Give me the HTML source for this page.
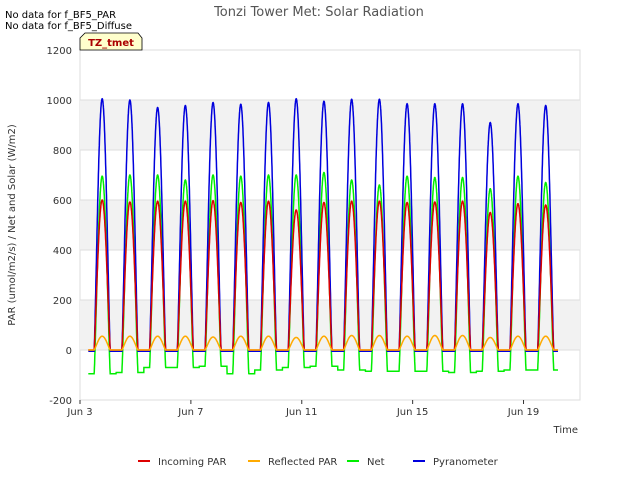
<!DOCTYPE html>
<html><head><meta charset="utf-8"><style>
body{margin:0;background:#fff;font-family:"Liberation Sans","DejaVu Sans",sans-serif}
svg text{font-family:"DejaVu Sans","Liberation Sans",sans-serif}
</style></head><body>
<svg id="c" width="640" height="480" xmlns="http://www.w3.org/2000/svg">
<rect width="640" height="480" fill="#fff"/>
<text x="5" y="18" font-size="10" fill="#000">No data for f_BF5_PAR</text>
<text x="5" y="29" font-size="10" fill="#000">No data for f_BF5_Diffuse</text>
<text x="319" y="16" font-size="13" fill="#555" text-anchor="middle">Tonzi Tower Met: Solar Radiation</text>
<g id="plot"></g>
<text x="15" y="225" font-size="10" fill="#333" text-anchor="middle" transform="rotate(-90 15 225)">PAR (umol/m2/s) / Net and Solar (W/m2)</text>
<text x="578" y="433" font-size="10" fill="#333" text-anchor="end">Time</text>
<g><path d="M80 50 L80 38 L85 33 L138 33 L142 38 L142 50 Z" fill="#ffffcc" stroke="#000" stroke-width="0.8"/>
<text x="111" y="46" font-size="10" font-weight="bold" fill="#a00" text-anchor="middle">TZ_tmet</text></g>
<g id="legend"></g>
</svg>
<script>
const dayLabels=["Jun 3","Jun 7","Jun 11","Jun 15","Jun 19"];
const dayTicks=[0,4,8,12,16];
const yTicks=[-200,0,200,400,600,800,1000,1200];
const pyrPeaks=[1005,1000,970,978,990,983,990,1005,995,1003,1003,985,985,985,910,985,978];
const parPeaks=[600,592,595,595,597,590,595,560,590,595,595,590,592,595,550,585,580];
const refPeaks=[55,55,55,55,52,55,55,50,55,58,58,55,58,58,50,55,55];
const netPeaks=[695,700,700,680,700,695,700,700,710,680,660,695,690,690,645,695,670];
const netNight=[-95,-90,-70,-70,-65,-95,-80,-70,-65,-80,-85,-85,-85,-90,-85,-80,-80];
const NS="http://www.w3.org/2000/svg";
const X0=80,X1=580,Y0=50,Y1=400;
const xs=d=>X0+d*27.72;
const ys=v=>Y1-(v+200)/1400*(Y1-Y0);
const plot=document.getElementById('plot');
function mk(t,a,p){const e=document.createElementNS(NS,t);for(const k in a)e.setAttribute(k,a[k]);(p||plot).appendChild(e);return e;}
mk('rect',{x:X0,y:Y0,width:X1-X0,height:Y1-Y0,fill:'#fff',stroke:'#ddd'});
for(let i=1;i<yTicks.length-1;i+=2){const b=mk('rect',{x:X0,y:ys(yTicks[i+1]),width:X1-X0,height:ys(yTicks[i])-ys(yTicks[i+1]),fill:'#f2f2f2'});
}
yTicks.forEach(v=>{mk('line',{x1:X0,x2:X1,y1:ys(v),y2:ys(v),stroke:'#ddd'});
const t=mk('text',{x:X0-8,y:ys(v)+4,'font-size':10,fill:'#333','text-anchor':'end'});t.textContent=v;
});
dayTicks.forEach((d,i)=>{mk('line',{x1:xs(d),x2:xs(d),y1:Y1,y2:Y1+4,stroke:'#333'});
const t=mk('text',{x:xs(d),y:Y1+15,'font-size':10,fill:'#333','text-anchor':'middle'});t.textContent=dayLabels[i];
});
const PEAK=0.8,HW=0.29;
function shape(a){a=a/HW;return Math.abs(a)>=1?0:Math.pow(Math.cos(a*Math.PI/2),1.2);}
function series(peaks,night,color,name){let pts=[];const start=0.3,end=17.25;
for(let t=start;t<=end;t+=0.005){let d=Math.round(t-PEAK);d=Math.max(0,Math.min(d,peaks.length-1));
const s=shape(t-(d+PEAK));const n=Array.isArray(night)?night[d]:night;const v=s>0?n+(peaks[d]-n)*s:n;pts.push(xs(t).toFixed(1)+','+ys(v).toFixed(1));}
const p=mk('polyline',{points:pts.join(' '),fill:'none',stroke:color,'stroke-width':1.5});
}
series(netPeaks,netNight,'#00ee00','net-line');
series(pyrPeaks,-5,'#0000dd','pyranometer-line');
series(parPeaks,0,'#dd0000','incoming-par-line');
series(refPeaks,0,'#ffaa00','reflected-par-line');
const legNames=["Incoming PAR","Reflected PAR","Net","Pyranometer"],legCols=["#dd0000","#ffaa00","#00ee00","#0000dd"],legX=[138,248,347,413];
const lg=document.getElementById('legend');
legNames.forEach((n,i)=>{const g=mk('g',{},lg);
mk('line',{x1:legX[i],x2:legX[i]+12,y1:461,y2:461,stroke:legCols[i],'stroke-width':2},g);
const t=mk('text',{x:legX[i]+20,y:465,'font-size':10,fill:'#333'},g);t.textContent=n;});
</script>
</body></html>
